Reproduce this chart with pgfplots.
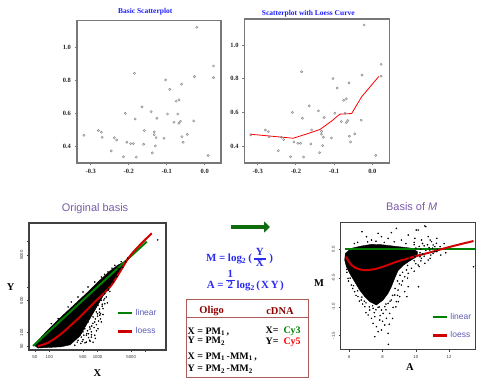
\documentclass[border=0pt]{standalone}
\usepackage{pgfplots}
\pgfplotsset{compat=1.18}
\usepackage{pgfplotstable}
\usetikzlibrary{arrows.meta}
\usepackage{fontspec}
\setmainfont{Liberation Serif}
\setsansfont{Liberation Sans}
\definecolor{ttlblue}{HTML}{1E1EFF}
\definecolor{ptsgray}{HTML}{8A8A8A}
\definecolor{purp}{HTML}{7A5AA8}
\definecolor{lgd}{HTML}{5A5AB4}
\definecolor{dgreen}{HTML}{008000}
\definecolor{lred}{HTML}{D00000}
\definecolor{arrowgreen}{HTML}{0E6E0E}
\definecolor{boxred}{HTML}{B05A5A}
\definecolor{hdr}{HTML}{8B0000}
\definecolor{fblue}{HTML}{2A2AF0}
\definecolor{framegray}{HTML}{787878}

\pgfplotstableread{
x y
-0.021 1.119
0.023 0.885
0.023 0.815
-0.027 0.821
-0.185 0.841
-0.103 0.801
-0.092 0.744
-0.061 0.775
-0.068 0.680
-0.075 0.672
-0.165 0.638
-0.141 0.609
-0.209 0.599
-0.098 0.595
-0.071 0.595
-0.183 0.565
-0.126 0.569
-0.064 0.551
-0.068 0.539
-0.081 0.545
-0.029 0.553
-0.159 0.495
-0.280 0.495
-0.272 0.485
-0.133 0.487
-0.133 0.470
-0.318 0.466
-0.270 0.454
-0.238 0.452
-0.232 0.438
-0.128 0.452
-0.107 0.448
-0.046 0.472
-0.060 0.458
-0.057 0.424
-0.205 0.424
-0.195 0.416
-0.188 0.416
-0.161 0.412
-0.130 0.402
-0.246 0.372
-0.138 0.360
-0.214 0.336
-0.180 0.334
0.009 0.344
}\scatterdata

\pgfplotstableread{
x y
-0.320 0.470
-0.207 0.446
-0.168 0.474
-0.137 0.498
-0.106 0.549
-0.085 0.589
-0.054 0.593
-0.028 0.692
0.017 0.813
}\loessdata

\pgfplotstableread{
X Y
48 54
81 98
167 210
341 426
699 864
1127 1431
1817 2255
2663 3052
3546 3551
3546 2902
2663 1938
1817 1005
1300 638
887 315
635 172
434 85
269 54
175 49
58 46
}\xycore

\pgfplotstableread{
X Y
110 158
152 203
245 366
286 471
394 606
500 781
635 1005
875 1290
1200 1665
1650 2143
2282 3005
2663 2536
1520 1815
17700 10800
394 68
461 80
500 104
543 122
586 88
635 172
689 133
744 104
807 221
875 172
944 285
1024 399
1110 241
1200 513
1300 336
1411 716
1520 606
1650 850
1790 1095
2100 1290
586 62
744 80
689 68
875 88
337 53
1024 122
1200 172
1411 432
807 62
450 100
520 150
600 200
700 250
800 300
900 350
1000 260
1100 330
1250 420
1350 520
1700 900
950 150
1150 200
650 95
1300 250
1600 450
1800 800
2400 2100
2900 2500
3100 3600
2000 2600
1400 1900
3800 3600
4200 4300
2200 1700
2500 1700
2700 2200
3300 2700
500 70
600 95
700 120
800 160
900 200
1000 230
1100 280
750 90
850 130
650 78
550 60
450 58
950 110
1050 180
1150 260
1250 380
1400 560
700 65
900 75
380 62
520 88
620 110
760 140
480 64
}\xypts

\pgfplotstableread{
A M
5.76 -0.07
6.12 0.017
6.72 0.057
7.33 0.086
7.93 0.08
8.53 0.06
9.13 0.04
9.7 0.02
10.1 -0.04
10.1 -0.12
9.64 -0.2
9.23 -0.28
8.93 -0.37
8.73 -0.5
8.53 -0.649
8.33 -0.764
8.03 -0.880
7.63 -0.967
7.23 -0.909
6.93 -0.822
6.62 -0.707
6.32 -0.562
6.02 -0.417
5.82 -0.301
5.72 -0.186
}\macore

\pgfplotstableread{
A M
6.76 0.306
7.73 0.277
8.53 0.289
8.83 0.364
9.54 0.248
10.14 0.335
10.54 0.405
10.74 0.219
9.94 0.19
9.13 0.161
8.33 0.19
7.33 0.161
7.93 0.219
7.03 0.219
10.34 0.161
10.94 0.133
11.14 0.046
11.04 -0.07
10.6 0.393
10.02 0.335
10.86 0.161
11.26 0.19
11.46 0.046
13.47 -0.302
8.35 -1.65
10.86 -0.157
11.26 -0.04
10.16 -0.649
9.46 -0.822
8.95 -0.909
6.93 -0.996
7.23 -1.054
7.43 -1.025
7.73 -1.008
7.93 -1.054
8.13 -0.996
8.33 -0.938
8.53 -0.88
8.73 -0.793
8.93 -0.707
9.13 -0.620
8.83 -0.909
7.53 -1.17
7.83 -1.228
7.43 -1.286
7.63 -1.343
7.93 -1.401
7.73 -1.43
8.13 -1.314
8.23 -1.198
7.33 -1.199
7.13 -1.14
8.33 -1.459
8.43 -1.112
8.63 -1.008
9.03 -0.822
9.33 -0.735
9.54 -0.649
6.72 -0.88
6.52 -0.822
6.32 -0.736
6.12 -0.62
5.92 -0.504
7.53 -1.517
8.03 -1.112
9.94 -0.128
10.34 -0.157
10.74 -0.186
10.54 -0.244
10.14 -0.273
9.74 -0.33
9.54 -0.417
9.33 -0.475
9.44 -0.359
10.84 -0.012
11.14 -0.041
11.04 0.075
11.24 0.104
6.3 0.1
6.5 0.12
7.1 0.13
7.6 0.14
8.1 0.12
8.7 0.13
9.4 0.1
9.9 0.08
10.5 0.06
11.8 -0.06
7.0 -1.1
6.8 -0.95
7.6 -1.05
5.85 -0.4
5.95 -0.55
6.2 -0.68
6.4 -0.8
6.6 -0.9
10.2 0.05
10.4 -0.08
10.6 -0.02
10.8 0.03
10.3 -0.2
10.5 -0.12
10.9 -0.1
11.3 0.0
11.5 -0.1
11.7 0.1
10.0 -0.25
9.9 0.12
10.4 0.1
10.7 0.08
11.0 0.02
9.6 -0.15
9.8 -0.05
10.2 -0.3
9.9 -0.38
9.5 -0.5
9.2 -0.55
9.0 -0.6
8.9 -0.8
8.8 -1.0
8.6 -1.2
8.4 -1.3
8.0 -1.25
7.5 -1.1
7.2 -1.0
6.9 -0.9
8.2 -1.05
7.85 -1.15
9.3 -0.15
9.0 -0.3
10.0 0.02
10.25 -0.13
10.3 0.0
10.25 -0.06
9.9 -0.2
9.5 -0.28
9.2 -0.4
9.05 -0.45
8.9 -0.55
8.75 -0.68
8.6 -0.8
8.45 -0.9
8.2 -0.95
7.8 -1.0
7.4 -0.98
7.0 -0.93
6.75 -0.83
6.5 -0.72
6.25 -0.63
6.05 -0.5
5.85 -0.35
}\mapts

\pgfplotsset{
  every axis title shift=0pt,
  topax/.style={
    scale only axis,
    axis line style={draw=framegray, line width=1.6bp},
    tick align=outside, tick pos=left,
    major tick length=2.2bp,
    tick style={draw=framegray, line width=0.9bp},
    ticklabel style={font=\bfseries\fontsize{6.5}{7}\selectfont, text=black!85},
    xtick={-0.3,-0.2,-0.1,0}, xticklabels={-0.3,-0.2,-0.1,0.0},
    ytick={0.4,0.6,0.8,1.0}, yticklabels={0.4,0.6,0.8,1.0},
    title style={font=\bfseries\fontsize{7.5}{8}\selectfont, text=ttlblue, anchor=center},
  },
  botax/.style={
    scale only axis,
    axis line style={black!75, line width=1.1bp},
    tick align=outside, tick pos=left,
    major tick length=2.2bp,
    tick style={black!75, line width=0.6bp},
    ticklabel style={font=\sffamily\fontsize{4.3}{5}\selectfont, text=black!80},
    yticklabel style={rotate=90, anchor=south},
    label style={font=\bfseries\fontsize{10.5}{11}\selectfont},
    title style={font=\sffamily\fontsize{11}{12}\selectfont, text=purp, anchor=center},
    legend style={draw=none, fill=none, font=\sffamily\fontsize{8.5}{9}\selectfont, text=lgd, row sep=7bp, inner sep=0pt, cells={anchor=west}},
    legend image code/.code={\draw[##1, line width=2.6bp] (0bp,0bp) -- (14bp,0bp);},
  },
}

\begin{document}
\begin{tikzpicture}
% top-left
\begin{axis}[topax, at={(76.7bp,360.3bp)}, anchor=north west, width=144bp, height=142.6bp,
  xmin=-0.337, xmax=0.042, ymin=0.297, ymax=1.159,
  title={Basic Scatterplot}, title style={at={(0.476,1.063)}}]
  \addplot[only marks, mark=o, mark size=1.1bp, mark options={ptsgray, line width=0.5bp}] table[x=x,y=y] {\scatterdata};
\end{axis}
% top-right
\begin{axis}[topax, at={(244.3bp,361.7bp)}, anchor=north west, width=145bp, height=144bp,
  xmin=-0.335, xmax=0.0445, ymin=0.297, ymax=1.153,
  title={Scatterplot with Loess Curve}, title style={at={(0.441,1.037)}}]
  \addplot[only marks, mark=o, mark size=1.1bp, mark options={ptsgray, line width=0.5bp}] table[x=x,y=y] {\scatterdata};
  \addplot[red, line width=0.8bp] table[x=x,y=y] {\loessdata};
\end{axis}
% bottom-left
\begin{loglogaxis}[botax, at={(29bp,158bp)}, anchor=north west, width=137bp, height=127bp,
  xmin=37.9, xmax=26300, ymin=41.7, ymax=25400,
  xtick={50,100,500,1000,5000,10000}, xticklabels={50,100,500,1000,5000,{}},
  ytick={50,100,500,1000,5000,10000}, yticklabels={50,100,500,{},5000,{}},
  xminorticks=false, yminorticks=false,
  title={Original basis}, title style={at={(0.482,1.11)}},
  xlabel={X}, ylabel={Y},
  xlabel style={at={(0.5,-0.179)}, anchor=center},
  ylabel style={at={(-0.134,0.496)}, anchor=center, rotate=-90},
  legend style={at={(0.642,0.339)}, anchor=north west}]
  \addplot[fill=black, draw=black, line width=0.4bp, forget plot] table[x=X,y=Y] {\xycore} -- cycle;
  \addplot[only marks, mark=*, mark size=0.55bp, black, forget plot] table[x=X,y=Y] {\xypts};
  \addplot[dgreen, line width=2bp] coordinates {(46,51) (10490,9900)};
  \addlegendentry{linear}
  \addplot[lred, line width=2bp, smooth] coordinates {(58,51) (94,60) (177,95) (394,203) (875,471) (1933,1094) (4296,4198) (6918,7586) (13320,15130)};
  \addlegendentry{loess}
\end{loglogaxis}
% bottom-right
\begin{axis}[botax, at={(340.7bp,158.7bp)}, anchor=north west, width=135bp, height=127bp,
  xmin=5.48, xmax=13.6, ymin=-1.736, ymax=0.469,
  xtick={6,8,10,12}, xticklabels={6,8,10,12},
  ytick={-1.5,-1,-0.5,0}, yticklabels={-1.5,-1.0,-0.5,0.0},
  title={Basis of \textit{M}}, title style={at={(0.526,1.12)}},
  xlabel={A}, ylabel={M},
  xlabel style={at={(0.513,-0.137)}, anchor=center},
  ylabel style={at={(-0.161,0.522)}, anchor=center, rotate=-90},
  legend style={at={(0.674,0.302)}, anchor=north west}]
  \addplot[fill=black, draw=black, line width=0.4bp, forget plot] table[x=A,y=M] {\macore} -- cycle;
  \addplot[only marks, mark=*, mark size=0.55bp, black, forget plot] table[x=A,y=M] {\mapts};
  \addplot[dgreen, line width=2bp] coordinates {(5.75,0) (13.55,0)};
  \addlegendentry{linear}
  \addplot[lred, line width=2bp, smooth] coordinates {(5.8,-0.128) (6.04,-0.243) (6.34,-0.319) (6.85,-0.36) (7.45,-0.348) (8.05,-0.3) (8.85,-0.215) (9.85,-0.13) (10.86,-0.053) (11.86,0.028) (12.7,0.09) (13.47,0.144)};
  \addlegendentry{loess}
\end{axis}
% arrow
\draw[arrowgreen, line width=4bp, -{Triangle[length=6bp,width=11bp]}] (230.7bp,154bp) -- (270bp,154bp);
% formulas
\node[anchor=base west, text=fblue, font=\bfseries\fontsize{11}{12}\selectfont, inner sep=0pt] at (206bp,119.3bp)
  {M\hspace{2.6bp}=\hspace{2.6bp}log\textsubscript{2}\hspace{2bp}(\hspace{2bp}{\setlength{\arrayrulewidth}{1.1bp}\renewcommand{\arraystretch}{0.8}\begin{tabular}{@{\hspace{2bp}}c@{\hspace{2bp}}}Y\\\hline X\end{tabular}}\hspace{3.5bp})};
\node[anchor=base west, text=fblue, font=\bfseries\fontsize{11}{12}\selectfont, inner sep=0pt] at (206.7bp,92.3bp)
  {A\hspace{2.6bp}=\hspace{2.5bp}{\setlength{\arrayrulewidth}{1.1bp}\renewcommand{\arraystretch}{0.78}\begin{tabular}[b]{@{\hspace{1.5bp}}c@{\hspace{1.5bp}}}1\\\hline 2\end{tabular}}\hspace{2bp}log\textsubscript{2}\hspace{1.5bp}(\hspace{1bp}X\hspace{1.8bp}Y\hspace{1.5bp})};
% box
\draw[boxred, line width=0.8bp] (186bp,3.7bp) rectangle (308.3bp,81.7bp);
\draw[boxred, line width=0.6bp] (186bp,63.3bp) -- (308.3bp,63.3bp);
\node[text=hdr, font=\bfseries\fontsize{10.5}{11}\selectfont] at (211.7bp,70.3bp) {Oligo};
\node[text=hdr, font=\bfseries\fontsize{10.5}{11}\selectfont] at (280bp,70.3bp) {cDNA};
\begin{scope}[every node/.style={anchor=west, inner sep=0pt, font=\bfseries\fontsize{10}{11}\selectfont}]
\node at (187.5bp,49.3bp) {X = PM\textsubscript{1}\,,};
\node at (187.5bp,40bp) {Y = PM\textsubscript{2}};
\node at (187.5bp,24.3bp) {X = PM\textsubscript{1}\,-MM\textsubscript{1}\,,};
\node at (187.5bp,12bp) {Y = PM\textsubscript{2}\,-MM\textsubscript{2}};
\node at (265.5bp,50bp) {X=\ \ \textcolor{dgreen}{Cy3}};
\node at (265.5bp,38.7bp) {Y=\ \ \textcolor{red}{Cy5}};
\end{scope}
\pgfresetboundingbox
\path[use as bounding box] (0,0) rectangle (480bp,381bp);
\end{tikzpicture}
\end{document}
